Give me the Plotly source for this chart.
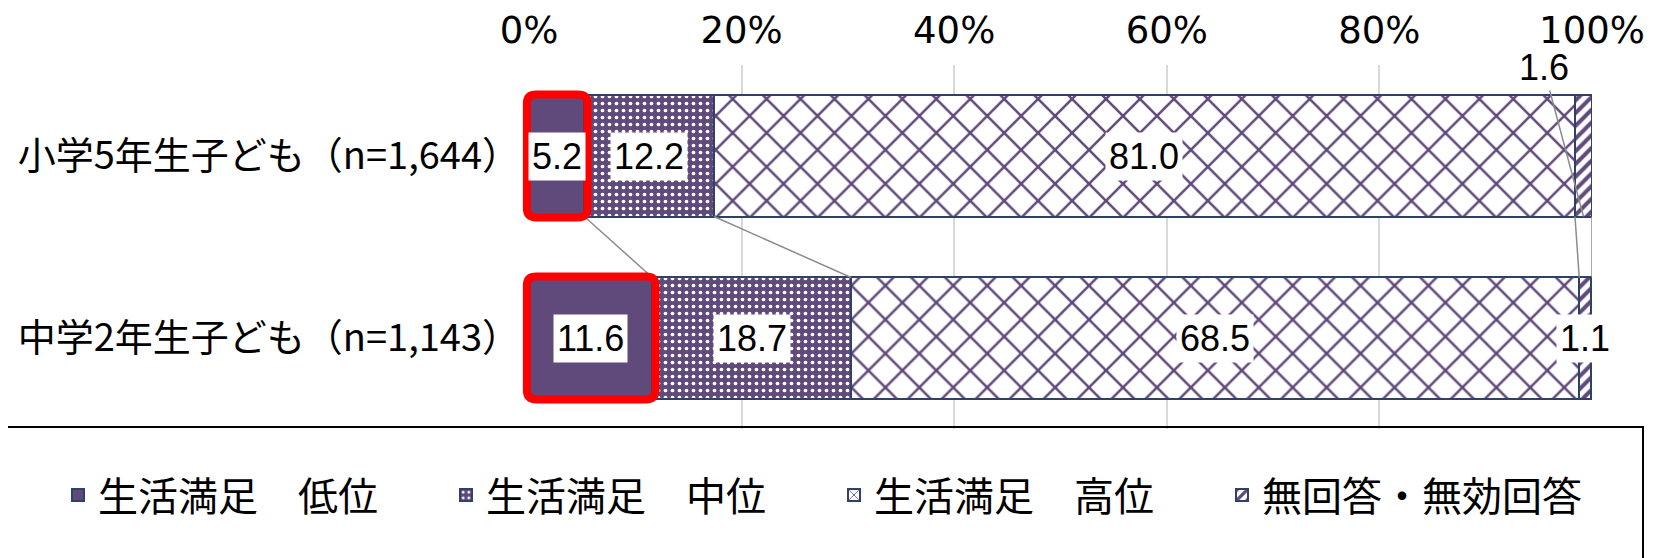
import plotly.graph_objects as go

# ---------------- data ----------------
categories = ["小学5年生子ども（n=1,644）", "中学2年生子ども（n=1,143）"]
series_names = ["生活満足　低位", "生活満足　中位", "生活満足　高位", "無回答・無効回答"]
low = [5.2, 11.6]
mid = [12.2, 18.7]
high = [81.0, 68.5]
no_answer = [1.6, 1.1]
tick_vals = [0, 20, 40, 60, 80, 100]
tick_text = ["0%", "20%", "40%", "60%", "80%", "100%"]

# ---------------- style ----------------
PURPLE = "#604a7b"
EDGE = "#2f4167"
GRID = "#d9d9d9"
CONNECT = "#8c8c8c"
RED = "#ff0000"
BAR_W = 0.665
HW = BAR_W / 2
ypos = list(range(len(categories)))
X_MAX = 100.0

# page body has an 8px margin: lay the figure out in figure coordinates
OFF = 8
FIG_W, FIG_H = 1668 - OFF, 558 - OFF
PLOT_L, PLOT_W, PLOT_T, PLOT_H = 529 - OFF, 1063, 65 - OFF, 364
PLOT_B = PLOT_T + PLOT_H

series_values = [low, mid, high, no_answer]
patterns = [
    dict(shape=""),
    dict(shape=".", fgcolor="white", bgcolor=PURPLE, size=7, solidity=0.22, fillmode="replace"),
    dict(shape="x", fgcolor=PURPLE, bgcolor="white", size=24, solidity=0.2, fillmode="replace"),
    dict(shape="/", fgcolor=PURPLE, bgcolor="white", size=9, solidity=0.45, fillmode="replace"),
]

fig = go.Figure()
for name, vals, pat in zip(series_names, series_values, patterns):
    fig.add_trace(go.Bar(
        name=name, x=vals, y=ypos, orientation="h", width=BAR_W,
        marker=dict(color=PURPLE, pattern=pat, line=dict(color=EDGE, width=2)),
        hoverinfo="skip",
    ))

# cumulative positions
n = len(categories)
starts = []
ends = []
for i in range(n):
    s = 0.0
    st, en = [], []
    for vals in series_values:
        st.append(s)
        s += vals[i]
        en.append(s)
    starts.append(st)
    ends.append(en)

shapes = []
# series connector lines between rows
for k in range(len(series_values)):
    x_top = ends[0][k]
    x_bot = ends[1][k]
    if k == len(series_values) - 1:
        x_top = x_bot = X_MAX
    shapes.append(dict(type="line", xref="x", yref="y",
                       x0=x_top, y0=ypos[0] + HW, x1=x_bot, y1=ypos[1] - HW,
                       line=dict(color=CONNECT, width=1.5), layer="above"))

# red rounded highlight on the "low" segment (x in paper units so it is not clipped)
RX = 0.009   # paper units
RY = 0.05    # category units
for i in range(n):
    x0 = (starts[i][0] - 0.2) / X_MAX
    x1 = (ends[i][0] + 0.3) / X_MAX
    y0 = ypos[i] - HW - 0.005
    y1 = ypos[i] + HW + 0.005
    path = (f"M{x0+RX},{y0} L{x1-RX},{y0} Q{x1},{y0} {x1},{y0+RY} "
            f"L{x1},{y1-RY} Q{x1},{y1} {x1-RX},{y1} L{x0+RX},{y1} "
            f"Q{x0},{y1} {x0},{y1-RY} L{x0},{y0+RY} Q{x0},{y0} {x0+RX},{y0} Z")
    shapes.append(dict(type="path", xref="paper", yref="y", path=path,
                       line=dict(color=RED, width=8), layer="above"))

# legend frame (page coords converted to paper coords)
def px_x(page_x):
    return (page_x - OFF - PLOT_L) / PLOT_W

def px_y(page_y):
    return (PLOT_B - (page_y - OFF)) / PLOT_H

shapes.append(dict(type="rect", xref="paper", yref="paper",
                   x0=px_x(1), x1=px_x(1643), y0=px_y(427), y1=px_y(580),
                   line=dict(color="black", width=2), layer="above"))

annotations = []
LABEL_FONT = dict(family="Liberation Sans, Arial", size=36, color="black")
for i in range(n):
    for k, vals in enumerate(series_values):
        v = vals[i]
        xc = starts[i][k] + v / 2
        if i == 0 and k == len(series_values) - 1:
            annotations.append(dict(x=xc, y=ypos[i] + HW, xref="x", yref="y",
                                    text=f"{v:.1f}", showarrow=True, arrowhead=0,
                                    arrowcolor=CONNECT, arrowwidth=1.5,
                                    ax=-40, ay=-149, font=LABEL_FONT,
                                    bgcolor="white", borderpad=2))
        else:
            annotations.append(dict(x=xc, y=ypos[i], xref="x", yref="y",
                                    text=f"{v:.1f}", showarrow=False,
                                    font=LABEL_FONT, bgcolor="white", borderpad=3))

fig.update_layout(
    width=FIG_W, height=FIG_H,
    margin=dict(l=PLOT_L, r=FIG_W - PLOT_L - PLOT_W, t=PLOT_T, b=FIG_H - PLOT_B, pad=0,
                autoexpand=False),
    paper_bgcolor="white", plot_bgcolor="white",
    barmode="stack",
    showlegend=True,
    legend=dict(orientation="h", x=px_x(58), xanchor="left",
                y=px_y(495), yanchor="middle",
                font=dict(family="Noto Sans CJK JP", size=40, color="black"),
                entrywidth=343, traceorder="normal",
                bgcolor="rgba(0,0,0,0)", borderwidth=0),
    xaxis=dict(range=[0, X_MAX], side="top", tickmode="array",
               tickvals=tick_vals, ticktext=tick_text,
               showgrid=True, gridcolor=GRID, gridwidth=1.5,
               zeroline=False, showline=False, ticks="",
               ticklabelstandoff=14,
               tickfont=dict(family="DejaVu Sans", size=37, color="black"),
               fixedrange=True),
    yaxis=dict(range=[1.5, -0.5], tickmode="array", tickvals=ypos,
               ticktext=categories, showgrid=False, zeroline=False,
               showline=False, ticks="", ticklabelstandoff=8,
               tickfont=dict(family="Noto Sans CJK JP", size=38, color="black"),
               fixedrange=True),
    shapes=shapes,
    annotations=annotations,
)

fig.write_html("out.html")
